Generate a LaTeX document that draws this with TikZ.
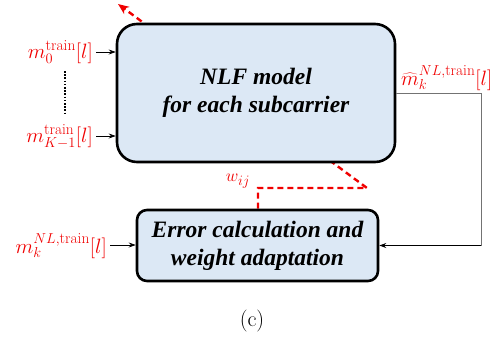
\documentclass[tikz,border=0pt]{standalone}
\usepackage{fontspec}
\newfontfamily\boxfont{Liberation Serif}
\usetikzlibrary{arrows.meta,backgrounds}
\definecolor{boxblue}{RGB}{220,232,245}
\definecolor{myred}{RGB}{240,0,0}
\begin{document}
\begin{tikzpicture}[x=1pt,y=-1pt,
  blockbox/.style={draw=black, line width=2.6pt, fill=boxblue, align=center,
    font=\boxfont\bfseries\itshape\fontsize{23.5}{28}\selectfont, inner sep=0pt},
  lab/.style={text=myred, font=\fontsize{22}{26}\selectfont, inner sep=0pt},
  arr/.style={-{Stealth[length=7pt,width=5pt]}, line width=0.8pt},
  redd/.style={draw=myred, line width=2.4pt, dash pattern=on 6pt off 4pt}]
\useasboundingbox (0,0) rectangle (502,338);

\node[blockbox, minimum width=278pt, minimum height=138pt, rounded corners=20pt] (nlf) at (256,93) {NLF model\\for each subcarrier};
\node[blockbox, minimum width=241pt, minimum height=71pt, rounded corners=10pt] (err) at (257.5,245.5) {Error calculation and\\weight adaptation};

% inputs
\node[lab, anchor=base east] (l0) at (93,58) {$m_0^{\mathrm{train}}[l]$};
\node[lab, anchor=base east] (l1) at (93,142) {$m_{K-1}^{\mathrm{train}}[l]$};
\draw[arr] ([xshift=3pt,yshift=6pt]l0.base east) -- ([yshift=6pt]l0.base east -| nlf.west);
\draw[arr] ([xshift=3pt,yshift=6pt]l1.base east) -- ([yshift=6pt]l1.base east -| nlf.west);
\coordinate (d0) at (65,71);
\coordinate (d1) at (65,115);
\draw[line width=1.6pt, dash pattern=on 1.6pt off 1.6pt] (d0) -- (d1);

% output
\node[lab, anchor=base west] (lo) at (401,85) {$\widehat{m}_k^{NL,\mathrm{train}}[l]$};
\coordinate (corner) at (481,93);
\draw[line width=1pt, draw=black!55] (nlf.east) -- (corner) -- (corner |- err.east);
\draw[arr] (corner |- err.east) -- (err.east);

% error input
\node[lab, anchor=base east] (le) at (107,253) {$m_k^{NL,\mathrm{train}}[l]$};
\draw[arr] ([xshift=3pt,yshift=8pt]le.base east) -- ([yshift=8pt]le.base east -| err.west);

% weights feedback
\node[lab, font=\fontsize{19}{22}\selectfont] (w) at (238,181) {$w_{ij}$};
\coordinate (wc) at (258,188);
\coordinate (wr) at (367,188);
\coordinate (tip) at (118,4);
\begin{scope}[on background layer]
\draw[redd, -{Stealth[length=11pt,width=9pt]}] (err.north -| wc) -- (wc) -- (wr) -- (tip);
\end{scope}

\node[font=\fontsize{22}{26}\selectfont] (cap) at (252,321) {(c)};
\end{tikzpicture}
\end{document}
